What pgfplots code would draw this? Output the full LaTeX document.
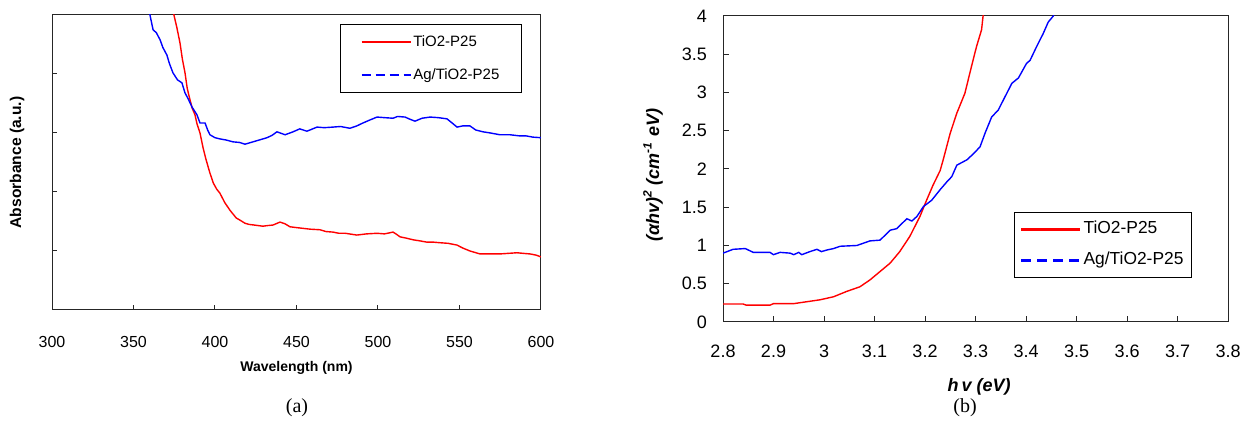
\documentclass[border=0pt]{standalone}
\usepackage{pgfplots}
\pgfplotsset{compat=1.18}
\usepackage{fontspec}
\setmainfont{Liberation Sans}
\newfontfamily\seriffont{Liberation Serif}

\begin{document}
\begin{tikzpicture}
\useasboundingbox (0,0) rectangle (621pt,210.5pt);
% ---------------- (a) ----------------
\begin{axis}[
  at={(26pt,55.5pt)}, anchor=south west,
  scale only axis, width=244.5pt, height=147.5pt,
  xmin=300, xmax=600, ymin=0, ymax=5,
  xtick={300,350,...,600}, ytick={1,2,3,4}, yticklabels={},
  xtick pos=bottom, ytick pos=left, tick align=inside,
  major tick length=2.5pt,
  axis line style={black!85, line width=0.5pt},
  tick style={black!85, line width=0.5pt},
  /pgf/number format/assume math mode=true,
  xticklabel style={font=\fontsize{8}{9}\selectfont, yshift=-9.5pt},
  xlabel={\textbf{Wavelength (nm)}},
  xlabel style={font=\fontsize{7}{8}\selectfont, at={(axis description cs:0.5,-0.1966)}, anchor=center},
  ylabel={\textbf{Absorbance (a.u.)}},
  ylabel style={font=\fontsize{7.8}{9}\selectfont, at={(axis description cs:-0.0716,0.5)}, anchor=center},
  legend style={at={(0.961,0.9695)}, anchor=north east, draw=black, line width=0.5pt,
    font=\fontsize{7.5}{9}\selectfont, inner xsep=10pt, inner ysep=4.2pt,
    row sep=7.3pt, column sep=0pt,
    nodes={inner sep=1pt, text height=5.6pt, text depth=1.6pt}},
  legend cell align=left,
  legend image code/.code={\draw[#1, line width=0.75pt] (0pt,0pt) -- (24.5pt,0pt);},
]
\addplot[red, line width=0.7pt, forget plot] coordinates {
(372,5.6) (374.8,5.0) (376.5,4.8) (378.5,4.53) (380,4.25) (381.6,4.02) (383,3.75) (384.7,3.56) (386,3.42) (387.7,3.31)
(389,3.15) (390.8,3.0) (392.6,2.76) (394.5,2.55) (396.9,2.32) (399,2.15) (401,2.05) (403,1.98) (406,1.82) (409.2,1.69) (413,1.56)
(415.5,1.52) (418.4,1.47) (421,1.45) (424,1.44) (429.4,1.42) (432,1.43) (435.6,1.44) (439.9,1.49) (443,1.46) (446,1.41)
(452,1.39) (458.3,1.37) (464.4,1.36) (468,1.33) (472.4,1.32) (476,1.30) (480,1.30) (487,1.27)
(493,1.29) (499.4,1.30) (504,1.29) (509.2,1.32) (511,1.29) (513.5,1.24) (517,1.22) (521.5,1.19) (526,1.17) (530,1.15)
(534,1.15) (538,1.14) (543,1.13) (548.5,1.10) (552,1.05) (556.4,1.00) (562.6,0.95) (568,0.95) (574.8,0.95) (580,0.96) (585.3,0.97)
(589,0.96) (593.3,0.95) (597,0.93) (600,0.90)};
\addplot[blue, line width=0.7pt, forget plot] coordinates {
(358,5.3) (360.1,5.0) (362,4.75) (364,4.7) (366.3,4.58) (368,4.45) (370.5,4.32) (372,4.18) (374.2,4.02)
(377,3.90) (379.7,3.85) (381.6,3.68) (383.5,3.58) (385.9,3.44) (388.9,3.31) (390.8,3.17)
(393.9,3.17) (395.5,3.05) (396.9,2.97) (400,2.92) (403,2.90) (407,2.88) (411,2.85) (415,2.84) (418.4,2.81)
(423.3,2.85) (427,2.88) (431.9,2.92) (435,2.96) (438,3.02) (443,2.97) (447.9,3.02) (452,3.07)
(456.4,3.03) (462.6,3.10) (467,3.09) (472.4,3.10) (477,3.11) (482.8,3.08) (487,3.12) (490.8,3.17) (495,3.22) (499.4,3.27)
(504,3.26) (509.2,3.25) (512,3.28) (516.6,3.27) (519,3.24) (522.7,3.20) (527,3.25) (532,3.27) (537,3.26) (542.3,3.24) (545,3.18) (548.5,3.10)
(552,3.12) (556.4,3.12) (560,3.05) (564.4,3.02) (569,3.00) (574.8,2.97) (581,2.97) (587.1,2.95) (591,2.95) (595,2.93) (600,2.92)};
\addlegendimage{red}
\addlegendentry{TiO2-P25}
\addlegendimage{blue, dash pattern=on 4.5pt off 2.5pt}
\addlegendentry{Ag/TiO2-P25}
\end{axis}
% ---------------- (b) ----------------
\begin{axis}[
  at={(361.5pt,49.5pt)}, anchor=south west,
  scale only axis, width=252.5pt, height=153pt,
  xmin=2.8, xmax=3.8, ymin=0, ymax=4,
  xtick={2.8,2.9,...,3.81}, ytick={0,0.5,...,4},
  xticklabels={2.8,2.9,3,3.1,3.2,3.3,3.4,3.5,3.6,3.7,3.8},
  yticklabels={0,0.5,1,1.5,2,2.5,3,3.5,4},
  xtick pos=bottom, ytick pos=left, tick align=inside,
  major tick length=3pt,
  axis line style={black!85, line width=0.5pt},
  tick style={black!85, line width=0.5pt},
  /pgf/number format/assume math mode=true,
  xticklabel style={font=\fontsize{9}{10}\selectfont, yshift=-7.8pt},
  yticklabel style={font=\fontsize{9}{10}\selectfont, xshift=-4.5pt},
  xlabel={\textbf{\textit{h\,v (eV)}}},
  xlabel style={font=\fontsize{9}{10}\selectfont, at={(axis description cs:0.507,-0.2124)}, anchor=center},
  ylabel={\textbf{\textit{(αhv)\textsuperscript{2} (cm\textsuperscript{-1} eV)}}},
  ylabel style={font=\fontsize{9}{10}\selectfont, at={(axis description cs:-0.1386,0.48)}, anchor=center},
  legend style={at={(0.9287,0.3595)}, anchor=north east, draw=black, line width=0.5pt,
    font=\fontsize{8.7}{10}\selectfont, inner xsep=3pt, inner ysep=3.4pt,
    row sep=5.35pt, column sep=0pt,
    nodes={inner sep=1pt, text height=6.35pt, text depth=1.8pt}},
  legend cell align=left,
  legend image code/.code={\draw[#1, line width=1.1pt] (0pt,0pt) -- (29.5pt,0pt);},
]
\addplot[red, line width=0.7pt, forget plot] coordinates {
(2.8,0.235) (2.84,0.235) (2.846,0.22) (2.893,0.22) (2.9,0.24) (2.94,0.24)
(2.966,0.265) (2.992,0.29) (3.019,0.33) (3.045,0.40) (3.071,0.46) (3.091,0.55)
(3.111,0.66) (3.131,0.77) (3.150,0.92) (3.170,1.12) (3.190,1.38) (3.203,1.59)
(3.216,1.79) (3.230,1.98) (3.236,2.12) (3.25,2.47) (3.263,2.73) (3.279,2.99)
(3.292,3.34) (3.302,3.60) (3.312,3.82) (3.315,4.0) (3.32,4.2)};
\addplot[blue, line width=0.7pt, forget plot] coordinates {
(2.8,0.90) (2.82,0.95) (2.844,0.96) (2.86,0.91) (2.893,0.91) (2.9,0.88)
(2.913,0.91) (2.933,0.90) (2.94,0.88) (2.95,0.91) (2.956,0.88) (2.972,0.92)
(2.986,0.95) (2.995,0.92) (3.005,0.94) (3.019,0.96) (3.032,0.99) (3.065,1.0)
(3.091,1.06) (3.111,1.07) (3.131,1.20) (3.144,1.22) (3.164,1.35) (3.174,1.32)
(3.184,1.38) (3.197,1.51) (3.213,1.59) (3.23,1.73) (3.243,1.83) (3.253,1.90)
(3.263,2.05) (3.283,2.12) (3.296,2.20) (3.309,2.29) (3.319,2.47) (3.332,2.68)
(3.345,2.77) (3.355,2.90) (3.372,3.12) (3.385,3.19) (3.401,3.38) (3.408,3.42)
(3.421,3.60) (3.434,3.77) (3.444,3.92) (3.454,4.0) (3.46,4.1)};
\addlegendimage{red}
\addlegendentry{TiO2-P25}
\addlegendimage{blue, dash pattern=on 5pt off 3pt}
\addlegendentry{Ag/TiO2-P25}
\end{axis}
\node[font=\seriffont\fontsize{10}{12}\selectfont] at (148.5pt,6.5pt) {(a)};
\node[font=\seriffont\fontsize{10}{12}\selectfont] at (482.5pt,6.5pt) {(b)};
\end{tikzpicture}
\end{document}
